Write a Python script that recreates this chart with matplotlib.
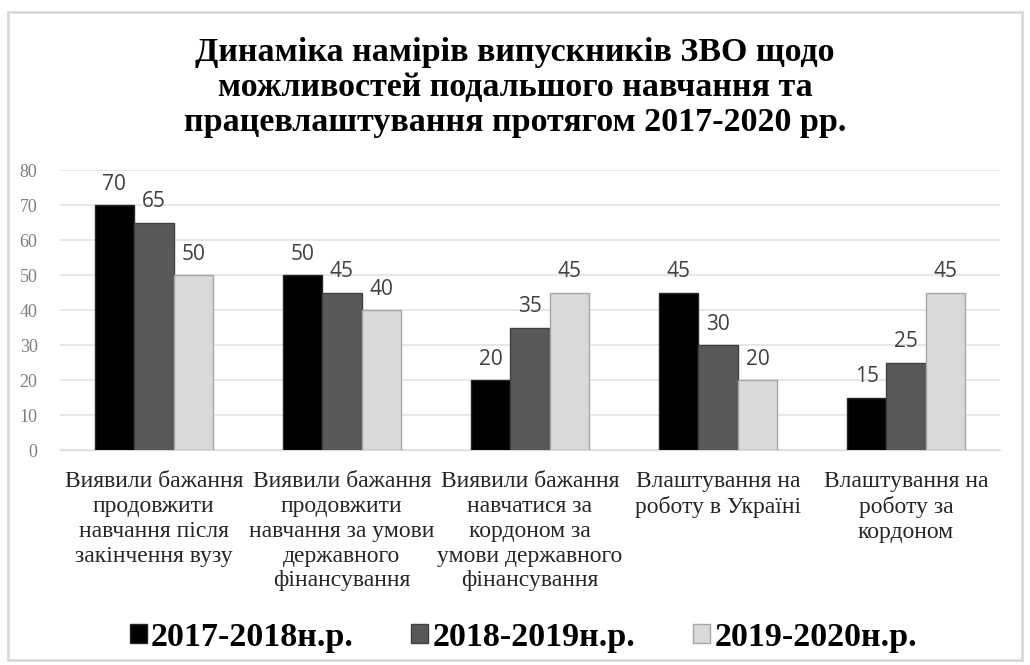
import numpy as np
import matplotlib.pyplot as plt
from matplotlib.patches import Rectangle

# data
categories = [
    "Виявили бажання\nпродовжити\nнавчання після\nзакінчення вузу",
    "Виявили бажання\nпродовжити\nнавчання за умови\nдержавного\nфінансування",
    "Виявили бажання\nнавчатися за\nкордоном за\nумови державного\nфінансування",
    "Влаштування на\nроботу в Україні",
    "Влаштування на\nроботу за\nкордоном",
]
series_names = ["2017-2018н.р.", "2018-2019н.р.", "2019-2020н.р."]
vals_2017 = [70, 50, 20, 45, 15]
vals_2018 = [65, 45, 35, 30, 25]
vals_2019 = [50, 40, 45, 20, 45]
yticks = [0, 10, 20, 30, 40, 50, 60, 70, 80]

colors = ["#000000", "#595959", "#d9d9d9"]
edges = ["#262626", "#404040", "#a6a6a6"]

fig = plt.figure(figsize=(10.3, 6.65), dpi=100)
ax = fig.add_axes([0.058, 0.323, 0.913, 0.421])

# chart frame
fig.patches.append(Rectangle((8 / 1030, 5 / 665), 1014 / 1030, 648 / 665,
                             transform=fig.transFigure, fill=False,
                             edgecolor="#d9d9d9", linewidth=2))

x = np.arange(len(categories))
w = 0.21
for i, vals in enumerate([vals_2017, vals_2018, vals_2019]):
    bars = ax.bar(x + (i - 1) * w, vals, w, color=colors[i], edgecolor=edges[i],
                  linewidth=1, label=series_names[i], zorder=3)
    for b, v in zip(bars, vals):
        ax.text(b.get_x() + b.get_width() / 2, v + 3, str(v), ha="center",
                va="bottom", fontsize=15, color="#404040", family="Open Sans")

ax.set_xlim(-0.5, len(categories) - 0.5)
ax.set_ylim(0, 80)
ax.set_yticks(yticks)
ax.set_yticklabels([str(t) for t in yticks], family="Liberation Serif",
                   fontsize=13, color="#7f7f7f")
ax.set_xticks(x)
ax.set_xticklabels(categories, family="Liberation Serif", fontsize=17,
                   color="#262626", va="top", linespacing=1.24)
ax.tick_params(axis="both", length=0)
ax.tick_params(axis="x", pad=15)
ax.tick_params(axis="y", pad=16)
ax.grid(axis="y", color="#e3e3e3", linewidth=1.2, zorder=0)
for s in ["top", "right", "left"]:
    ax.spines[s].set_visible(False)
ax.spines["bottom"].set_color("#d9d9d9")

fig.text(0.5, 0.869, "Динаміка намірів випускників ЗВО щодо\n"
         "можливостей подальшого навчання та\n"
         "працевлаштування протягом 2017-2020 рр.",
         ha="center", va="center", fontsize=24.5, fontweight="bold",
         family="Liberation Serif", linespacing=1.17)

leg = fig.legend(loc="center", bbox_to_anchor=(0.508, 0.042), ncol=3, frameon=False,
                 prop={"family": "Liberation Serif", "weight": "bold", "size": 24.5},
                 handlelength=0.5, handleheight=0.5, handletextpad=0.12,
                 columnspacing=1.7)

fig.savefig("out.png", dpi=100)
